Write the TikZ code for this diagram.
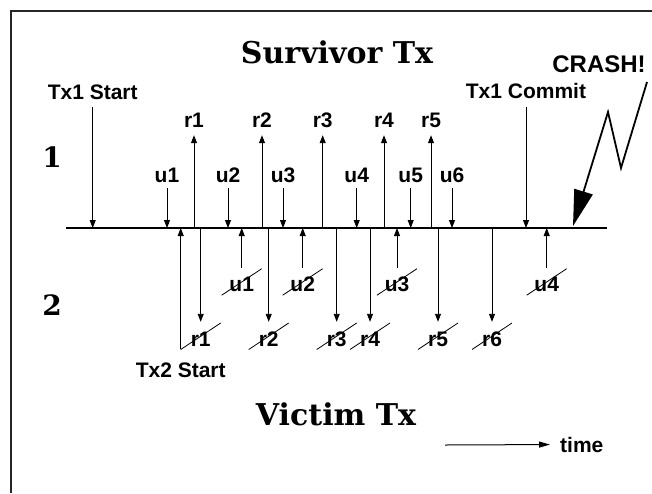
\documentclass[tikz,border=0pt]{standalone}
\usepackage{fontspec}
\setmainfont{Liberation Sans}
\newfontfamily\titlefont{DejaVu Serif}
\usetikzlibrary{arrows.meta}
\begin{document}
\begin{tikzpicture}[x=1pt,y=-1pt,
  lbl/.style={font=\bfseries\fontsize{21}{25}\selectfont, inner sep=0pt,
              text height=15pt, text depth=0pt, anchor=base},
  title/.style={font=\titlefont\bfseries\fontsize{30}{36}\selectfont,
                inner sep=0pt, anchor=base},
  rownum/.style={font=\titlefont\bfseries\fontsize{28}{32}\selectfont,
                 inner sep=0pt, anchor=base},
  evt/.style={line width=0.9pt, -{Triangle[length=8pt,width=6pt]}},
  axis/.style={line width=1.3pt},
  strike/.style={line width=0.8pt},
  bolt/.style={line width=1.8pt, -{Triangle[length=36pt,width=19pt]}},
]
\useasboundingbox (0,0) rectangle (652,493);

% frame (left and top edges)
\draw[line width=1.5pt, black!85] (11,493) -- (11,11) -- (652,11);

% headings
\node[title] (surv) at (337,63) {Survivor Tx};
\node[title] (vict) at (336,425) {Victim Tx};
\node[rownum] (one) at (52,167) {1};
\node[rownum] (two) at (52,315) {2};

% time line
\coordinate (tl0) at (66,228);
\coordinate (tl1) at (607,228);
\draw[axis] (tl0) -- (tl1);

% transaction 1: start and commit
\node[lbl] (tx1s) at (92.7,99) {Tx1 Start};
\coordinate (ttx1s) at (92.7,228);
\draw[evt, shorten <=8pt] (tx1s.south) -- (ttx1s);
\node[lbl] (tx1c) at (526,98) {Tx1 Commit};
\coordinate (ttx1c) at (526,228);
\draw[evt, shorten <=9pt] (tx1c.south) -- (ttx1c);

% transaction 1: updates
\foreach \n/\x in {u1/167,u2/228,u3/283,u4/356.7,u5/410.7,u6/452} {
  \node[lbl] (s\n) at (\x,182) {\n};
  \coordinate (ts\n) at (\x,228);
  \draw[evt, shorten <=6pt] (s\n.south) -- (ts\n);
}
% transaction 1: reads
\foreach \n/\x in {r1/194,r2/262,r3/322.7,r4/384,r5/431} {
  \coordinate (ts\n) at (\x,228);
  \node[lbl] (s\n) at (\x,127) {\n};
  \draw[evt, shorten >=8pt] (ts\n) -- (s\n.south);
}

% transaction 2: start
\node[lbl] (tx2s) at (180.7,377) {Tx2 Start};
\coordinate (ttx2s) at (180.7,228);
\draw[evt, shorten <=13pt] (tx2s.north) -- (ttx2s);

% transaction 2: updates (struck out)
\foreach \n/\x in {u1/241.7,u2/302.7,u3/397,u4/546.7} {
  \coordinate (tv\n) at (\x,228);
  \node[lbl] (v\n) at (\x,291.7) {\n};
  \draw[evt, shorten <=8.7pt] (v\n.north) -- (tv\n);
  \draw[strike] ([shift={(-20,3.5)}]v\n.base) -- ([shift={(20,-23)}]v\n.base);
}
% transaction 2: reads (struck out)
\foreach \n/\x in {r1/200.7,r2/268.7,r3/336.7,r4/370,r5/438,r6/492} {
  \coordinate (tv\n) at (\x,228);
  \node[lbl] (v\n) at (\x,346) {\n};
  \draw[evt, shorten >=9pt] (tv\n) -- (v\n.north);
  \draw[strike] ([shift={(-20,3.5)}]v\n.base) -- ([shift={(20,-23)}]v\n.base);
}

% crash
\node[lbl, font=\bfseries\fontsize{24}{28}\selectfont, text height=17pt]
  (crash) at (599,72) {CRASH!};
\coordinate (b1) at (647,82);
\coordinate (b2) at (621,168);
\coordinate (b3) at (608,112);
\coordinate (btip) at (573,226);
\draw[bolt] (b1) -- (b2) -- (b3) -- (btip);

% time direction
\coordinate (time0) at (445,445);
\node[lbl, anchor=base west] (time) at (560,452) {time};
\draw[line width=1pt, -{Triangle[length=11pt,width=6pt]}, shorten >=10pt]
  (time0) -- (time.west);
\end{tikzpicture}
\end{document}
